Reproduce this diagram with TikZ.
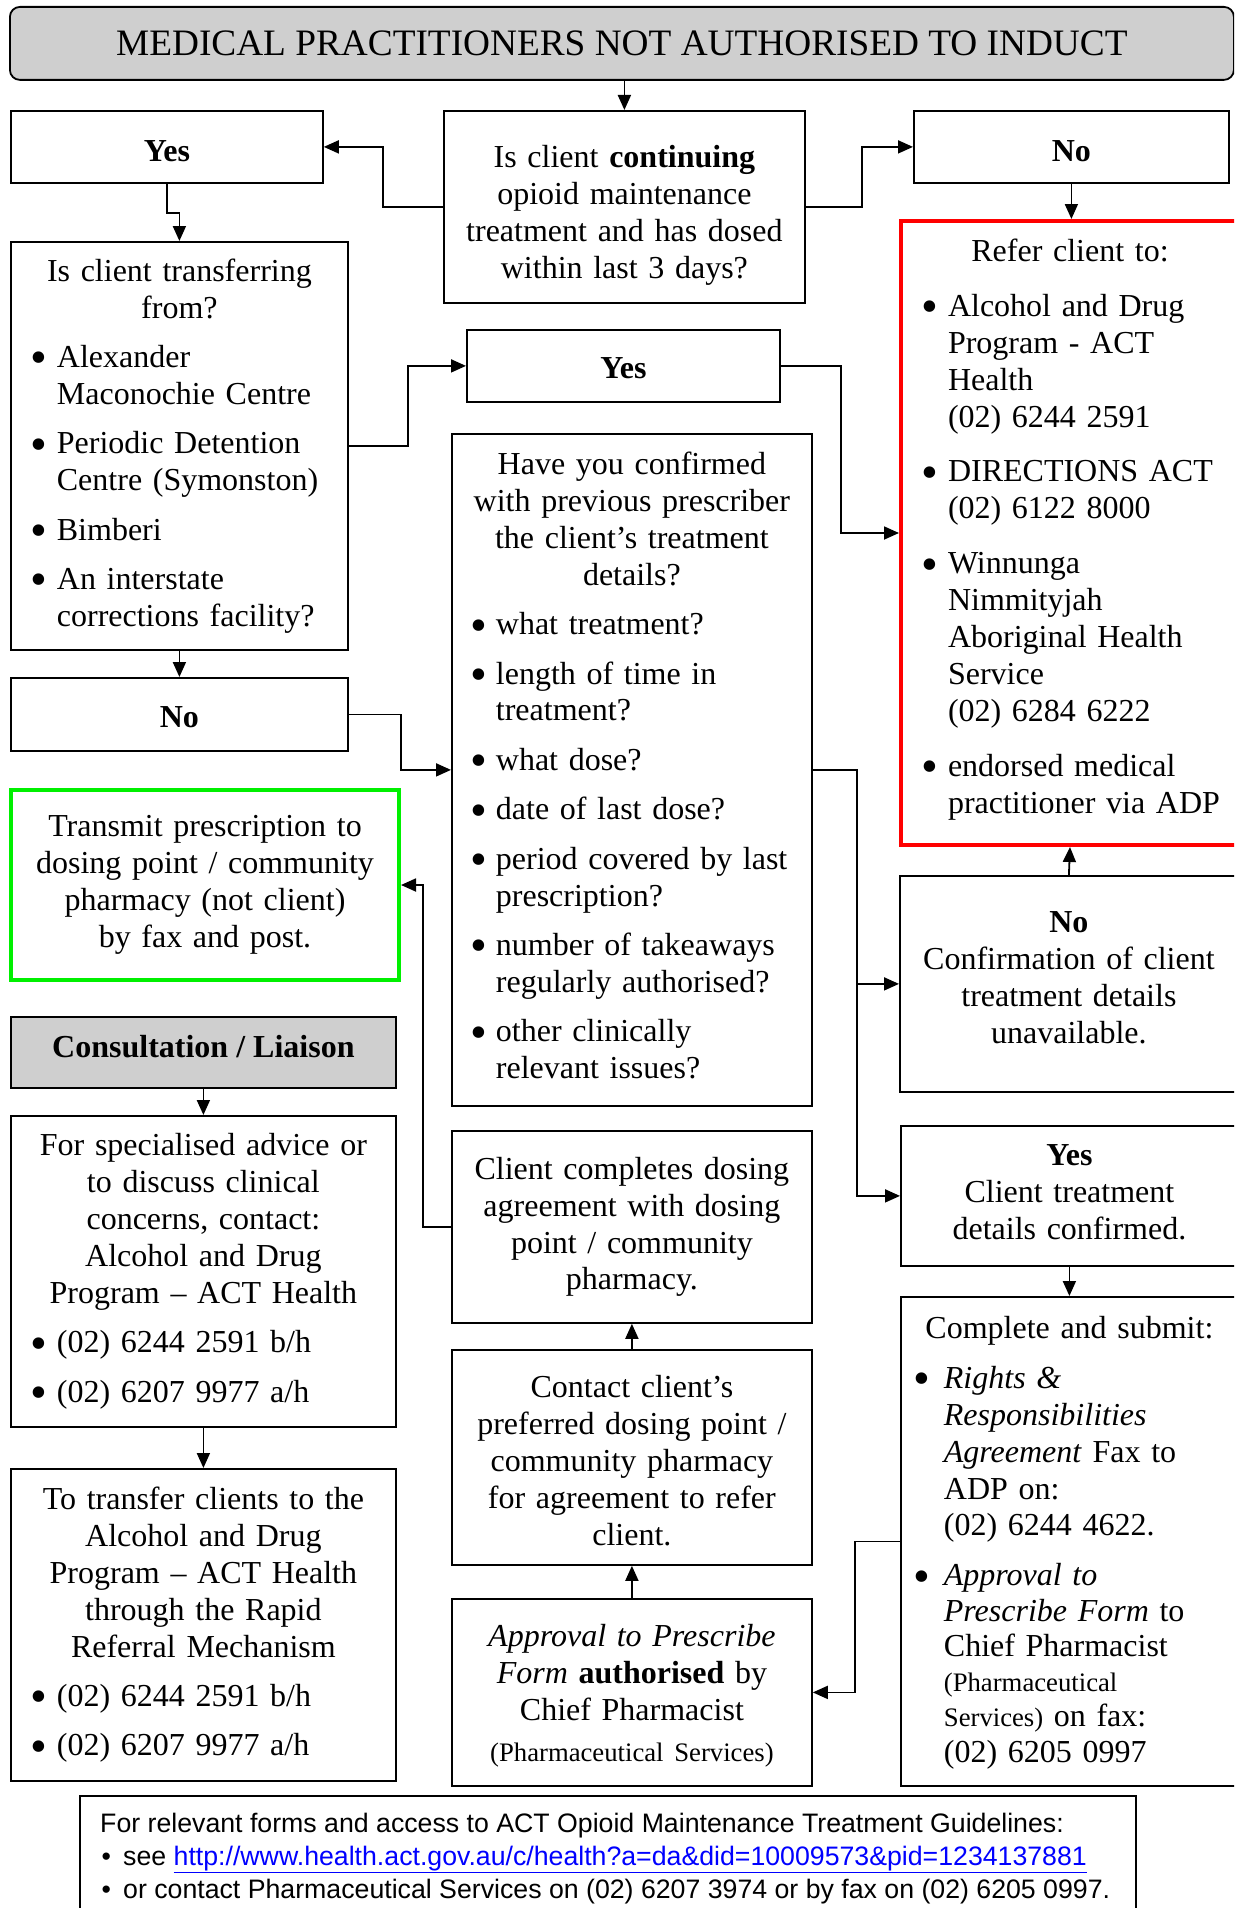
\documentclass[tikz,border=0pt]{standalone}
\usepackage{fontspec}
\setmainfont{Liberation Serif}
\newfontfamily\arialfamily{Liberation Sans}
\usetikzlibrary{arrows.meta}

\definecolor{boxgray}{HTML}{CFCFCF}
\definecolor{alertred}{HTML}{FF0000}
\definecolor{okgreen}{HTML}{00F000}
\definecolor{linkblue}{HTML}{0000FF}

% type sizes (1pt = one pixel of the page)
\newcommand\mainfs{\fontsize{32}{36.9}\selectfont\parskip=0pt\relax}
\newcommand\smallfs{\fontsize{26.7}{30.7}\selectfont}
\newcommand\titlefs{\fontsize{37.3}{42}\selectfont}
\newcommand\notefs{\arialfamily\fontsize{26.7}{33}\selectfont}

% a large list bullet
\newcommand\bigbul{\raisebox{-0.2em}{\scalebox{1.5}{\textbullet}}}
% centred lines, separated by \\
\newcommand\mkctr[1]{{\leftskip=0pt plus 1fil\rightskip=0pt plus 1fil\parfillskip=0pt\relax
  \def\\{\par\noindent}\noindent #1\par}}
% bulleted item: #1 bullet offset, #2 text offset, #3 text (\newline breaks)
\newcommand\mkitem[3]{{\leftskip=#2\relax\rightskip=0pt plus 1fil\relax\parfillskip=0pt plus 1fil\relax
  \noindent\llap{\hbox to \dimexpr#2-#1\relax{\bigbul\hss}}#3\par}}
\newcommand\mkgap[1][12.5pt]{\vskip#1\relax}
% trailing kern: positive lifts the text block by half, negative lowers it
\newcommand\mkbal[1]{\par\kern#1\relax}

\begin{document}
\begin{tikzpicture}[x=1pt,y=-1pt,
  box/.style={draw=black, line width=1.8pt, inner sep=0pt, anchor=north west, font=\mainfs},
  cell/.style 2 args={minimum width=#1, minimum height=#2, text width=#1},
  plain/.style 2 args={minimum width=#1, minimum height=#2},
  arr/.style={line width=1.8pt, -{Triangle[length=15pt,width=13pt]}},
  note/.style={anchor=base west, inner sep=0pt, font=\notefs},
]
\useasboundingbox (0,0) rectangle (1234,1908);
\fill[white] (0,0) rectangle (1234,1908);
\clip (0,0) rectangle (1234,1908);

% heading
\node[box, rounded corners=10pt, fill=boxgray, plain={1224pt}{73pt}, font=\titlefs]
  (title) at (9,6) {MEDICAL PRACTITIONERS NOT AUTHORISED TO INDUCT};

% first question and its answers
\node[box, plain={312pt}{72pt}, text height=28.6pt, text depth=0pt] (yesL) at (10,110) {\textbf{Yes}};
\node[box, cell={361pt}{192pt}] (q) at (443,110)
  {\mkctr{Is client \textbf{continuing}\\opioid maintenance\\treatment and has dosed\\within last 3 days?}\mkbal{-17pt}};
\node[box, plain={315pt}{72pt}, text height=28.6pt, text depth=0pt] (noR) at (913,110) {\textbf{No}};

% referral options
\node[box, draw=alertred, line width=4pt, cell={338pt}{624pt}] (refer) at (899,219) {%
  \mkctr{Refer client to:}\mkgap[18pt]
  \mkitem{20pt}{47pt}{Alcohol and Drug\newline Program - ACT\newline Health\newline (02) 6244 2591}\mkgap[18pt]
  \mkitem{20pt}{47pt}{DIRECTIONS ACT\newline (02) 6122 8000}\mkgap[18pt]
  \mkitem{20pt}{47pt}{Winnunga\newline Nimmityjah\newline Aboriginal Health\newline Service\newline (02) 6284 6222}\mkgap[18pt]
  \mkitem{20pt}{47pt}{endorsed medical\newline practitioner via ADP}\mkbal{7.2pt}};

% transfer question
\node[box, cell={337pt}{408pt}] (trans) at (10,241) {%
  \mkctr{Is client transferring\\from?}\mkgap
  \mkitem{20pt}{46pt}{Alexander\newline Maconochie Centre}\mkgap
  \mkitem{20pt}{46pt}{Periodic Detention\newline Centre (Symonston)}\mkgap
  \mkitem{20pt}{46pt}{Bimberi}\mkgap
  \mkitem{20pt}{46pt}{An interstate\newline corrections facility?}};
\node[box, plain={337pt}{73pt}, text height=26.4pt, text depth=0pt] (noL) at (10,677) {\textbf{No}};
\node[box, plain={313pt}{72pt}, text height=25.5pt, text depth=0pt] (yesM) at (466,329) {\textbf{Yes}};

% confirmation with previous prescriber
\node[box, cell={360pt}{672pt}] (have) at (451,433) {%
  \mkctr{Have you confirmed\\with previous prescriber\\the client’s treatment\\details?}\mkgap
  \mkitem{18.6pt}{44pt}{what treatment?}\mkgap
  \mkitem{18.6pt}{44pt}{length of time in\newline treatment?}\mkgap
  \mkitem{18.6pt}{44pt}{what dose?}\mkgap
  \mkitem{18.6pt}{44pt}{date of last dose?}\mkgap
  \mkitem{18.6pt}{44pt}{period covered by last\newline prescription?}\mkgap
  \mkitem{18.6pt}{44pt}{number of takeaways\newline regularly authorised?}\mkgap
  \mkitem{18.6pt}{44pt}{other clinically\newline relevant issues?}\mkbal{8.6pt}};

\node[box, cell={338pt}{216pt}] (nocf) at (899,875)
  {\mkctr{\textbf{No}\\Confirmation of client\\treatment details\\unavailable.}\mkbal{12pt}};
\node[box, cell={337pt}{140pt}] (yescf) at (900,1125)
  {\mkctr{\textbf{Yes}\\Client treatment\\details confirmed.}\mkbal{7.2pt}};
\node[box, cell={337pt}{489pt}] (submit) at (900,1296) {%
  \mkctr{Complete and submit:}\mkgap
  \mkitem{12.6pt}{43pt}{\textit{Rights \&}\newline\textit{Responsibilities}\newline\textit{Agreement} Fax to\newline ADP on:\newline (02) 6244 4622.}\mkgap[14.5pt]
  \mkitem{12.6pt}{43pt}{\fontsize{32}{35.3}\selectfont\textit{Approval to}\newline\textit{Prescribe Form} to\newline Chief Pharmacist\newline{\smallfs (Pharmaceutical}\newline{\smallfs Services)} on fax:\newline (02) 6205 0997}\mkbal{-3pt}};

% dosing point steps
\node[box, cell={360pt}{192pt}] (agree) at (451,1130)
  {\mkctr{Client completes dosing\\agreement with dosing\\point / community\\pharmacy.}};
\node[box, cell={360pt}{215pt}] (contact) at (451,1349)
  {\mkctr{Contact client’s\\preferred dosing point /\\community pharmacy\\for agreement to refer\\client.}\mkbal{-6pt}};
\node[box, cell={360pt}{187pt}] (approve) at (451,1598)
  {\mkctr{\textit{Approval to Prescribe}\\\textit{Form} \textbf{authorised} by\\Chief Pharmacist}\mkgap[10pt]
   \mkctr{\smallfs (Pharmaceutical Services)}\mkbal{-7pt}};

% left column
\node[box, draw=okgreen, line width=4pt, cell={388pt}{190pt}] (transmit) at (9,788)
  {\mkctr{Transmit prescription to\\dosing point / community\\pharmacy (not client)\\by fax and post.}};
\node[box, fill=boxgray, plain={385pt}{71pt}, text height=9.4pt, text depth=0pt] (consult) at (10,1016)
  {\textbf{Consultation / Liaison}};
\node[box, cell={385pt}{311pt}] (advice) at (10,1115) {%
  \mkctr{For specialised advice or\\to discuss clinical\\concerns, contact:\\Alcohol and Drug\\Program – ACT Health}\mkgap
  \mkitem{20pt}{46pt}{(02) 6244 2591 b/h}\mkgap
  \mkitem{20pt}{46pt}{(02) 6207 9977 a/h}};
\node[box, cell={385pt}{312pt}] (rapid) at (10,1468) {%
  \mkctr{To transfer clients to the\\Alcohol and Drug\\Program – ACT Health\\through the Rapid\\Referral Mechanism}\mkgap
  \mkitem{20pt}{46pt}{(02) 6244 2591 b/h}\mkgap
  \mkitem{20pt}{46pt}{(02) 6207 9977 a/h}};

% resources panel
\node[box, plain={1056pt}{130pt}] (links) at (79,1795) {};
\node[note] (linkhead) at (100,1832)
  {For relevant forms and access to ACT Opioid Maintenance Treatment Guidelines:};
\node[note] (linkweb) at (101.5,1865)
  {\makebox[21.5pt][l]{\textbullet}see {\color{linkblue}\underline{http://www.health.act.gov.au/c/health?a=da\&did=10009573\&pid=1234137881}}};
\node[note] (linkphone) at (101.5,1898)
  {\makebox[21.5pt][l]{\textbullet}or contact Pharmaceutical Services on (02) 6207 3974 or by fax on (02) 6205 0997.};

% connectors
\draw[arr] (title.south -| q.north) -- (q.north);
\draw[arr] (q.west) -- ++(-60,0) |- (yesL.east);
\draw[arr] (q.east) -- ++(56,0) |- (noR.west);
\draw[arr] (yesL.south) -- ++(0,29) -| (trans.north);
\draw[arr] (noR.south) -- (noR.south |- refer.north);
\draw[arr] (trans.east) -- ++(59,0) |- (yesM.west);
\draw[arr] (yesM.east) -- ++(60,0) |- (refer.west);
\draw[arr] (trans.south) -- (noL.north);
\draw[arr] (noL.east) -- ++(52,0) |- (have.west);
\draw[arr] (have.east) -- ++(44,0) |- (nocf.west);
\draw[arr] (have.east) -- ++(44,0) |- (yescf.west);
\draw[arr] (nocf.north) -- (refer.south);
\draw[arr] (yescf.south) -- (submit.north);
\draw[arr] (submit.west) -- ++(-45,0) |- (approve.east);
\draw[arr] (approve.north) -- (contact.south);
\draw[arr] (contact.north) -- (agree.south);
\draw[arr] (agree.west) -- ++(-28,0) |- (transmit.east);
\draw[arr] (consult.south) -- (advice.north);
\draw[arr] (advice.south) -- (rapid.north);
\end{tikzpicture}
\end{document}
